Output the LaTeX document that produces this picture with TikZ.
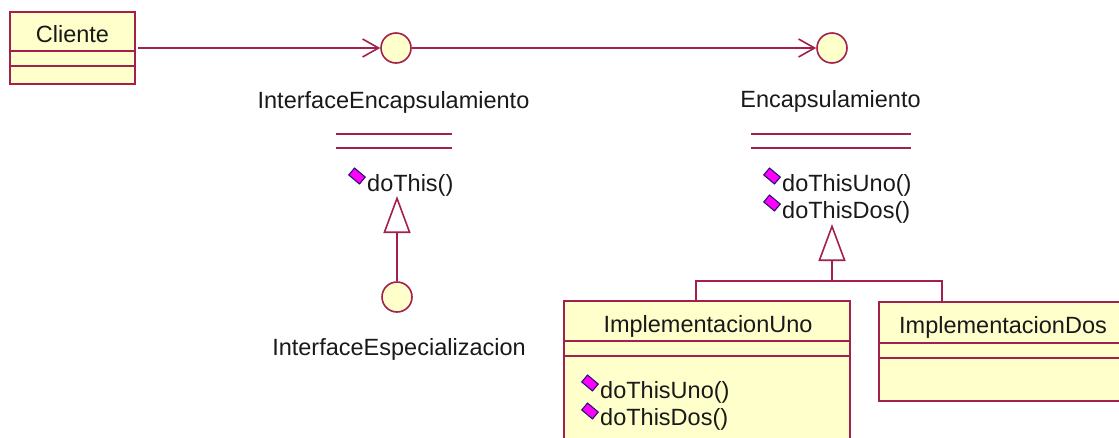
\documentclass[tikz,border=0pt]{standalone}
\usepackage{fontspec}
\setmainfont{Liberation Sans}
\usetikzlibrary{arrows.meta}
\definecolor{umlline}{RGB}{163,32,78}
\definecolor{umlfill}{RGB}{255,255,204}
\definecolor{opfill}{RGB}{255,0,255}
\definecolor{opedge}{RGB}{40,20,110}
\definecolor{txt}{RGB}{25,25,25}

\begin{document}
\begin{tikzpicture}[x=1pt,y=-1pt,
  every node/.style={font=\fontsize{23.5}{27}\selectfont, text=txt, inner sep=0pt},
  edge/.style={draw=umlline, line width=1.6pt},
  box/.style={draw=umlline, fill=umlfill, line width=1.6pt, rectangle, inner sep=0pt, outer sep=0pt, anchor=north west},
  iface/.style={draw=umlline, fill=umlfill, line width=1.6pt, circle, minimum size=30pt, inner sep=0pt},
  dep/.style={edge, -{Straight Barb[length=16pt,width=18pt]}},
  gen/.style={edge, -{Triangle[open,fill=white,length=37pt,width=27pt]}},
  opmark/.style={rectangle, draw=opedge, fill=opfill, line width=1.1pt, minimum width=14pt, minimum height=9pt, rotate=-40},
  label/.style={anchor=base},
  opname/.style={anchor=base west}
]
\useasboundingbox (0,0) rectangle (1119,437);
\clip (0,0) rectangle (1119,437);

% ---- Cliente class ----
\node[box, minimum width=125pt, minimum height=72pt] (cliente) at (10,12) {};
\node[label] (clienteName) at (72.5,42) {Cliente};
\draw[edge] (cliente.west |- 0,51) -- (cliente.east |- 0,51);
\draw[edge] (cliente.west |- 0,66) -- (cliente.east |- 0,66);

% ---- interfaces ----
\node[iface] (ienc) at (396,48) {};
\node[iface] (enc) at (832,48) {};
\node[iface] (iesp) at (397,297) {};

\draw[dep] ([xshift=3pt]cliente.east) -- (ienc.west);
\draw[dep] (ienc.east) -- (enc.west);

% InterfaceEncapsulamiento label and operations
\node[label] (iencName) at (393.5,108) {InterfaceEncapsulamiento};
\draw[edge] (336,134) -- (452,134);
\draw[edge] (336,148) -- (452,148);
\node[opmark] (iencOpMark) at (357,176) {};
\node[opname] (iencOp) at (367,191) {doThis()};

% Encapsulamiento label and operations
\node[label] (encName) at (830.5,107) {Encapsulamiento};
\draw[edge] (751,134) -- (911,134);
\draw[edge] (751,148) -- (911,148);
\node[opmark] (encOpAMark) at (772,176) {};
\node[opname] (encOpA) at (782,191) {doThisUno()};
\node[opmark] (encOpBMark) at (772,203) {};
\node[opname] (encOpB) at (782,218) {doThisDos()};

% InterfaceEspecializacion
\node[label] (iespName) at (399,355) {InterfaceEspecializacion};
\coordinate (iencTip) at (397,196);
\draw[gen] (iesp.north) -- (iencTip);

% ---- implementation classes ----
\node[box, minimum width=286pt, minimum height=160pt] (uno) at (564,301) {};
\node[label] (unoName) at (708,332) {ImplementacionUno};
\draw[edge] (uno.west |- 0,341) -- (uno.east |- 0,341);
\draw[edge] (uno.west |- 0,356) -- (uno.east |- 0,356);
\node[opmark] (unoOpAMark) at (590,383) {};
\node[opname] (unoOpA) at (600,398) {doThisUno()};
\node[opmark] (unoOpBMark) at (590,411) {};
\node[opname] (unoOpB) at (600,425) {doThisDos()};

\node[box, minimum width=248pt, minimum height=99pt] (dos) at (879,302) {};
\node[label] (dosName) at (1003,333) {ImplementacionDos};
\draw[edge] (dos.west |- 0,343) -- (dos.east |- 0,343);
\draw[edge] (dos.west |- 0,358) -- (dos.east |- 0,358);

% ---- realization tree ----
\coordinate (encTip) at (832,224);
\coordinate (join) at (832,281);
\draw[gen] (join) -- (encTip);
\draw[edge] ([xshift=-11pt]uno.north) |- (join);
\draw[edge] ([xshift=-61pt]dos.north) |- (join);
\end{tikzpicture}
\end{document}
